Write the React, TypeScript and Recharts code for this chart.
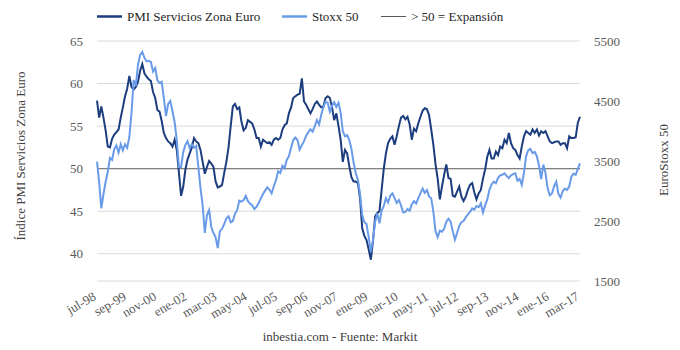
import React from 'react';
import { LineChart, Line, XAxis, YAxis, CartesianGrid, ReferenceLine } from 'recharts';

const FONT = '"Liberation Serif", "Times New Roman", serif';

const MONTHS = ['ene', 'feb', 'mar', 'abr', 'may', 'jun', 'jul', 'ago', 'sep', 'oct', 'nov', 'dic'];

// PMI Servicios Zona Euro, monthly jul-98 .. mar-17
const pmi = [
  58.0, 56.0, 57.3, 56.0, 54.5, 52.6, 52.5, 53.5, 54.0, 54.3, 54.6, 56.0,
  57.2, 58.5, 59.4, 60.9, 59.6, 59.3, 59.6, 60.2, 61.5, 62.3, 61.2, 60.8,
  60.5, 60.3, 59.0, 58.3, 56.9, 56.7, 55.6, 54.2, 53.6, 53.2, 53.0, 52.6,
  53.4, 52.2, 49.5, 46.8, 47.9, 49.9, 51.1, 51.8, 52.5, 53.6, 53.2, 53.0,
  52.2, 50.8, 49.4, 50.2, 50.9, 50.6, 50.2, 48.5, 47.8, 47.9, 48.1, 49.5,
  50.8, 52.5, 55.0, 57.3, 57.6, 57.0, 57.2, 55.5, 54.5, 54.8, 55.7, 55.5,
  55.3, 54.6, 53.6, 53.6, 52.6, 53.4, 53.2, 53.0, 53.1, 52.8, 53.4, 53.6,
  53.4, 53.6, 54.6, 55.1, 55.3, 56.5, 57.2, 58.3, 58.5, 58.7, 58.8, 60.6,
  57.9, 57.5, 57.0, 56.5, 57.0, 57.6, 57.9, 57.5, 57.2, 57.3, 58.3, 58.5,
  58.3, 57.2, 55.7, 56.5, 55.0, 53.4, 50.8, 52.2, 51.8, 50.3, 49.0, 48.5,
  48.5, 48.3, 46.5, 43.0, 42.1, 41.6, 40.5, 39.3, 41.5, 44.4, 44.8, 45.0,
  47.5, 50.0, 51.8, 53.0, 53.5, 53.8, 52.8, 53.8, 55.0, 56.0, 56.2, 55.8,
  56.1, 55.2, 53.4, 54.7, 54.4, 55.3, 56.1, 56.8, 57.1, 57.0, 56.3, 54.6,
  52.8, 50.5, 48.8, 46.4, 47.9, 49.3, 50.5, 48.9, 48.8, 46.8, 46.7, 47.3,
  47.9, 46.7, 46.2, 46.7, 47.5, 48.1, 48.3, 47.2, 46.4, 47.1, 47.5, 48.8,
  49.9, 51.4, 52.2, 51.2, 51.2, 52.0, 51.6, 52.6, 52.4, 53.4, 53.0, 54.2,
  53.0, 52.4, 52.2, 51.6, 51.2, 52.6, 53.8, 54.4, 54.2, 54.0, 54.6, 54.2,
  54.6, 53.9, 54.4, 54.2, 54.4, 53.8, 53.2, 53.0, 53.1, 53.2, 53.2, 52.8,
  53.0, 53.0, 52.4, 53.8, 53.6, 53.6, 53.7, 55.4, 56.1,
];

// Euro Stoxx 50, monthly jul-98 .. mar-17
const stoxx = [
  3490, 3150, 2710, 2950, 3150, 3320, 3550, 3520, 3700, 3760, 3640, 3780,
  3680, 3780, 3720, 3900, 4300, 4850, 4750, 5100, 5270, 5320, 5220, 5160,
  5170, 5150, 4990, 5050, 4850, 4800, 4820, 4550, 4250, 4450, 4500, 4330,
  4150, 3850, 3400, 3400, 3650, 3767, 3830, 3712, 3783, 3720, 3750, 3400,
  3050, 2760, 2300, 2600, 2683, 2400, 2300, 2230, 2050, 2330, 2370, 2450,
  2545, 2580, 2480, 2500, 2620, 2680, 2840, 2822, 2850, 2920, 2830, 2790,
  2760, 2700, 2740, 2800, 2880, 2950, 3010, 3060, 3020, 2962, 3080, 3180,
  3330, 3300, 3420, 3380, 3517, 3580, 3720, 3850, 3890, 3850, 3690, 3760,
  3830, 3920, 3980, 4028, 3990, 4080, 4183, 4110, 4270, 4400, 4488, 4470,
  4320, 4420, 4480, 4400, 4470, 4300, 4000, 3910, 3930, 3850, 3700, 3470,
  3300, 3183, 2950, 2600, 2480, 2450, 2230, 1988, 2180, 2488, 2628, 2462,
  2670, 2750, 2880, 2810, 2920, 2960, 2880, 2800, 2850, 2760, 2640, 2650,
  2700, 2670, 2780, 2830, 2790, 2880, 2962, 3040, 2970, 3017, 2910, 2880,
  2650, 2330, 2230, 2340, 2322, 2370, 2490, 2540, 2490, 2330, 2190, 2300,
  2420, 2480, 2500, 2560, 2610, 2650, 2710, 2690, 2750, 2730, 2795, 2640,
  2760, 2860, 3020, 3110, 3155, 3130, 3220, 3260, 3270, 3295, 3250, 3215,
  3260, 3280, 3295, 3170, 3200, 3100, 3300, 3580, 3680, 3700, 3630, 3650,
  3580, 3420, 3200, 3440, 3300, 3040, 2930, 2960, 3080, 3155, 2950, 2890,
  3000, 3040, 3020, 3075, 3240, 3290, 3270, 3370, 3460,
];

const leftTicks = [40, 45, 50, 55, 60, 65];
const rightTicks = [1500, 2500, 3500, 4500, 5500];

const monthLabels = pmi.map((_, i) => {
  const k = 6 + i;
  const yy = (98 + Math.floor(k / 12)) % 100;
  return `${MONTHS[k % 12]}-${String(yy).padStart(2, '0')}`;
});

const data = monthLabels.map((m, i) => ({ month: m, pmi: pmi[i], stoxx: stoxx[i] }));

const PMI_COLOR = '#1c3d7e';
const STOXX_COLOR = '#6a9be9';

const XTick = (props: any) => {
  const { x, y, payload } = props;
  return (
    <text
      x={x}
      y={y}
      transform={`rotate(-30 ${x} ${y})`}
      textAnchor="end"
      fontSize={13}
      fontFamily={FONT}
      fill="#595959"
    >
      {payload.value}
    </text>
  );
};

const LeftTitle = () => (
  <text x={25} y={156} transform="rotate(-90 25 156)" textAnchor="middle" fontSize={13} fontFamily={FONT} fill="#404040">
    Índice PMI Servicios Zona Euro
  </text>
);

const RightTitle = () => (
  <text x={668} y={160} transform="rotate(-90 668 160)" textAnchor="middle" fontSize={13} fontFamily={FONT} fill="#404040">
    EuroStoxx 50
  </text>
);

const Caption = () => (
  <text x={340} y={341} textAnchor="middle" fontSize={13} fontFamily={FONT} fill="#404040">
    inbestia.com - Fuente: Markit
  </text>
);

const legendItems = [
  { label: 'PMI Servicios Zona Euro', color: PMI_COLOR, width: 2.5, x: 97 },
  { label: 'Stoxx 50', color: STOXX_COLOR, width: 2.5, x: 282 },
  { label: '> 50 = Expansión', color: '#595959', width: 1, x: 381 },
];

export default function App() {
  return (
    <div style={{ position: 'absolute', left: 0, top: 0, width: 680, height: 350, background: '#fff' }}>
      <LineChart
        width={680}
        height={350}
        data={data}
        margin={{ top: 41, right: 0, bottom: 0, left: 0 }}
        style={{ fontFamily: FONT }}
      >
        <CartesianGrid yAxisId="left" horizontal vertical={false} stroke="#d9d9d9" />
        <XAxis
          dataKey="month"
          scale="point"
          padding={{ left: 0, right: 0 }}
          interval={13}
          height={69}
          tickSize={0}
          tickMargin={18}
          axisLine={false}
          tickLine={false}
          tick={<XTick />}
          label={<Caption />}
        />
        <YAxis
          yAxisId="left"
          orientation="left"
          width={97}
          type="number"
          domain={[36.8, 65]}
          ticks={leftTicks}
          axisLine={false}
          tickLine={false}
          tickSize={0}
          tickMargin={14}
          tick={{ fontSize: 13, fill: '#595959', fontFamily: FONT }}
          label={<LeftTitle />}
        />
        <YAxis
          yAxisId="right"
          orientation="right"
          width={100}
          type="number"
          domain={[1500, 5500]}
          ticks={rightTicks}
          axisLine={false}
          tickLine={false}
          tickSize={0}
          tickMargin={14}
          tick={{ fontSize: 13, fill: '#595959', fontFamily: FONT, textAnchor: 'start' }}
          label={<RightTitle />}
        />
        <ReferenceLine yAxisId="left" y={50} stroke="#808080" strokeWidth={1.2} />
        <Line
          yAxisId="left"
          type="linear"
          dataKey="pmi"
          stroke={PMI_COLOR}
          strokeWidth={2}
          dot={false}
          isAnimationActive={false}
        />
        <Line
          yAxisId="right"
          type="linear"
          dataKey="stoxx"
          stroke={STOXX_COLOR}
          strokeWidth={2}
          dot={false}
          isAnimationActive={false}
        />
      </LineChart>
      <svg
        width={680}
        height={32}
        style={{ position: 'absolute', left: 0, top: 0, pointerEvents: 'none' }}
      >
        {legendItems.map((it) => (
          <g key={it.label}>
            <line x1={it.x} x2={it.x + 25} y1={16.5} y2={16.5} stroke={it.color} strokeWidth={it.width} />
            <text x={it.x + 30} y={21} fontSize={13} fontFamily={FONT} fill="#262626">
              {it.label}
            </text>
          </g>
        ))}
      </svg>
    </div>
  );
}
